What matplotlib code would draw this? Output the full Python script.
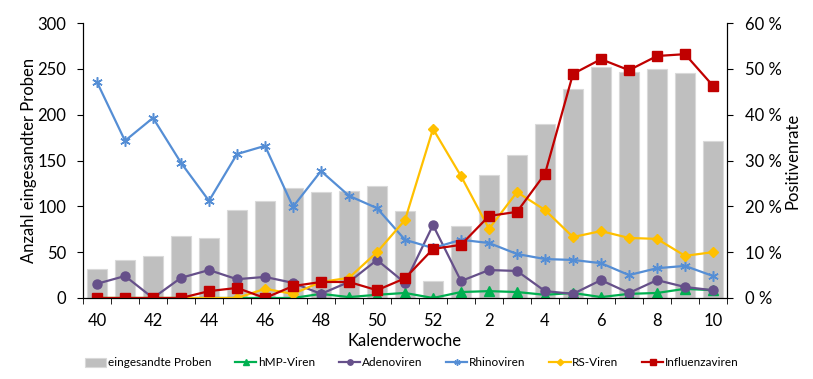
import numpy as np
import matplotlib.pyplot as plt
from matplotlib.ticker import FuncFormatter

plt.rcParams['font.family'] = ['Lato', 'DejaVu Sans']

weeks = ['40', '41', '42', '43', '44', '45', '46', '47', '48', '49', '50', '51', '52',
         '1', '2', '3', '4', '5', '6', '7', '8', '9', '10']
proben = [32, 41, 46, 68, 66, 96, 106, 120, 116, 117, 122, 95, 19,
          79, 134, 156, 190, 228, 252, 247, 250, 245, 171]
hmp = [0, 0, 0, 0, 0, 0, 0, 0, 0.9, 0.2, 0.7, 1.1, 0,
       1.3, 1.5, 1.3, 0.7, 1.1, 0.2, 0.9, 1.1, 2.0, 1.7]
adeno = [3.1, 4.8, 0, 4.4, 6.1, 4.1, 4.6, 3.3, 0.9, 3.5, 8.3, 3.3, 15.9,
         3.7, 6.1, 5.9, 1.5, 0.9, 3.9, 1.1, 3.9, 2.4, 1.7]
rhino = [47.1, 34.3, 39.3, 29.5, 21.2, 31.4, 33.2, 19.9, 27.7, 22.3, 19.6, 12.7, 10.9,
         12.7, 12.0, 9.6, 8.5, 8.3, 7.6, 5.0, 6.5, 7.0, 4.8]
rsv = [0, 0, 0, 0, 0, 0, 2.0, 0.9, 3.5, 4.4, 10.0, 17.0, 36.9,
       26.6, 15.1, 23.1, 19.2, 13.3, 14.6, 13.1, 12.9, 9.2, 10.0]
influenza = [0, 0, 0, 0, 1.5, 2.2, 0, 2.6, 3.5, 3.5, 1.7, 4.3, 10.7,
             11.6, 17.9, 18.8, 27.1, 48.9, 52.1, 49.7, 52.8, 53.2, 46.3]

x = np.arange(len(weeks))

fig = plt.figure(figsize=(8.13, 3.79), dpi=100)
ax = fig.add_axes([83 / 813, 1 - 298 / 379, (727 - 83) / 813, (298 - 23) / 379])
ax2 = ax.twinx()

bars = ax.bar(x, proben, width=0.7, color='#BFBFBF', edgecolor='#D9D9D9', linewidth=0.8,
              label='eingesandte Proben')
ax.set_ylim(0, 300)
ax.set_yticks(range(0, 301, 50))
ax.set_xlim(-0.5, len(weeks) - 0.5)
ax.set_xticks(x[::2])
ax.set_xticklabels(weeks[::2])
ax.set_xticks(np.arange(-0.5, len(weeks), 1), minor=True)
ax.tick_params(axis='x', which='major', length=0, labelsize=12, pad=11)
ax.tick_params(axis='x', which='minor', length=4, direction='out')
ax.tick_params(axis='y', labelsize=12, direction='out', length=4, pad=8)
ax.set_ylabel('Anzahl eingesandter Proben', fontsize=12, labelpad=0)
ax.set_xlabel('Kalenderwoche', fontsize=12, labelpad=3)

lw = 1.6
ms = 6.5
l1, = ax2.plot(x, hmp, color='#00B050', marker='^', ms=ms, lw=lw, label='hMP-Viren')
l2, = ax2.plot(x, adeno, color='#66508A', marker='o', ms=ms, lw=lw, label='Adenoviren')
l3, = ax2.plot(x, rhino, color='#558ED5', marker=(6, 2, 0), ms=ms + 1, mew=1.1, lw=lw,
               label='Rhinoviren')
l4, = ax2.plot(x, rsv, color='#FFC000', marker='D', ms=ms - 1, lw=lw, label='RS-Viren')
l5, = ax2.plot(x, influenza, color='#C00000', marker='s', ms=ms, lw=lw, label='Influenzaviren')
ax2.set_ylim(0, 60)
ax2.set_yticks(range(0, 61, 10))
ax2.yaxis.set_major_formatter(FuncFormatter(lambda v, p: '%d %%' % v))
ax2.tick_params(axis='y', labelsize=12, direction='out', length=4, pad=9)
ax2.set_ylabel('Positivenrate', fontsize=12, labelpad=2)

for a in (ax, ax2):
    a.spines['top'].set_visible(False)

fig.legend([bars, l1, l2, l3, l4, l5],
           ['eingesandte Proben', 'hMP-Viren', 'Adenoviren', 'Rhinoviren', 'RS-Viren', 'Influenzaviren'],
           loc='center', bbox_to_anchor=(412 / 813, 1 - 363 / 379), ncol=6, frameon=False,
           fontsize=8.5, handlelength=1.8, handletextpad=0.15, columnspacing=2.0, markerscale=0.6)

fig.savefig('out.png', dpi=100)
